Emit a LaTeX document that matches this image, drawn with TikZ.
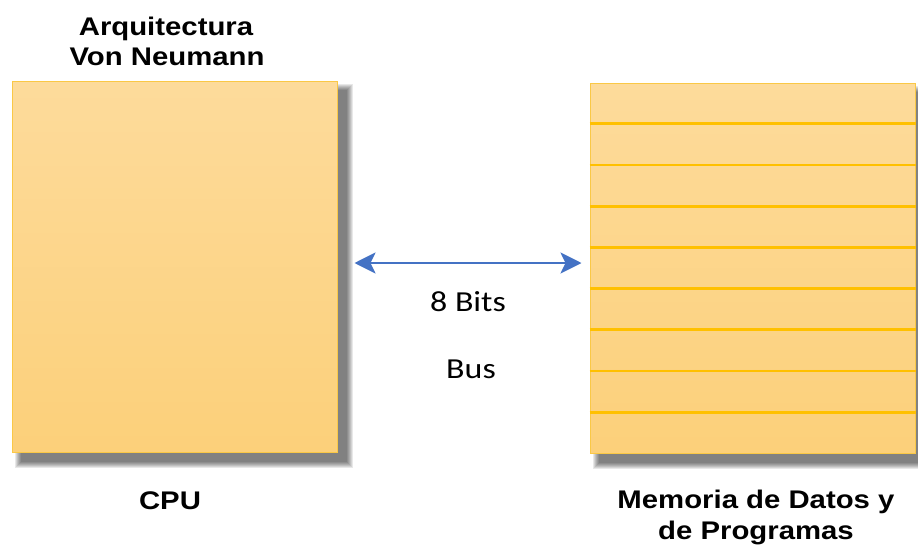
\documentclass[tikz,border=0pt]{standalone}
\usepackage{fontspec}
\setmainfont{Liberation Sans}
\newfontfamily\calib{Carlito}
\usetikzlibrary{arrows.meta,calc,backgrounds}
\definecolor{boxtop}{RGB}{253,219,155}
\definecolor{boxbot}{RGB}{252,208,122}
\definecolor{gold}{RGB}{255,192,0}
\definecolor{goldedge}{RGB}{250,200,70}
\definecolor{busblue}{RGB}{68,114,196}
\newcommand\stx[1]{\scalebox{1.15}[1]{#1}}
\newcommand\stc[1]{\scalebox{1.17}[1]{#1}}
\tikzset{
  x=1pt, y=-1pt,
  unitbox/.style={draw=goldedge, line width=1pt, top color=boxtop, bottom color=boxbot,
    rectangle, inner sep=0pt},
  boldlbl/.style={font=\fontsize{25.5}{30}\selectfont\bfseries, inner sep=0pt, anchor=base},
  thinlbl/.style={font=\calib\fontsize{29}{34}\selectfont, inner sep=0pt, anchor=base},
  bustip/.style={Stealth[length=21pt,width=21pt,inset=5pt]},
  busarrow/.style={busblue, line width=2.5pt, {Stealth[length=21pt,width=21pt,inset=5pt]}-{Stealth[length=21pt,width=21pt,inset=5pt]}},
  rowline/.style={gold, line width=2.8pt}
}
\begin{document}
\begin{tikzpicture}
\useasboundingbox (0,0) rectangle (918,546);

\node[unitbox, minimum width=325pt, minimum height=371pt] (cpu) at (174.5,266.5) {};
\node[unitbox, minimum width=325pt, minimum height=370pt] (mem) at (752.5,268) {};

\begin{scope}[on background layer]
  \fill[white] (0,0) rectangle (918,546);
  \foreach \nm in {cpu,mem}{
    \foreach \s in {6,5,...,0}{
      \fill[black, opacity=0.09] ($(\nm.north west)+(9-\s,9-\s)$) rectangle ($(\nm.south east)+(9+\s,9+\s)$);
    }
  }
\end{scope}

\foreach \i in {1,...,8}{
  \draw[rowline] ($(mem.north west)!\i/9!(mem.south west)$) -- ($(mem.north east)!\i/9!(mem.south east)$);
}

\draw[busarrow, shorten <=17pt, shorten >=8pt] ([yshift=3.5pt]cpu.east) -- ([yshift=5pt]mem.west);

\node[boldlbl] (title1) at (166,35) {\stx{Arquitectura}};
\node[boldlbl] (title2) at (167,65) {\stx{Von Neumann}};
\node[boldlbl] (cpulbl) at (170,509) {\stx{CPU}};
\node[boldlbl] (mem1) at (756,508) {\stx{Memoria de Datos y}};
\node[boldlbl] (mem2) at (756,539) {\stx{de Programas}};
\node[thinlbl] (bits) at (468,311) {\stc{8 Bits}};
\node[thinlbl] (bus) at (471,378) {\stc{Bus}};
\end{tikzpicture}
\end{document}
